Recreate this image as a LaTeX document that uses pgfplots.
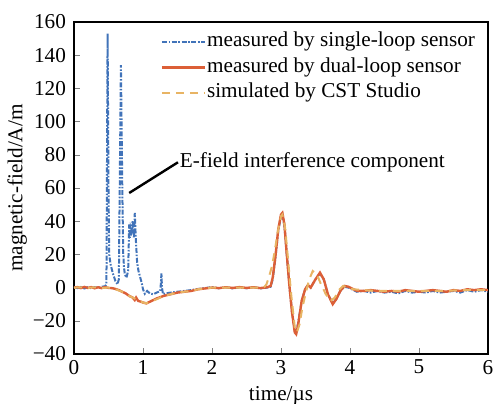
\documentclass[border=0pt]{standalone}
\usepackage{fontspec}
\setmainfont{Liberation Serif}
\usepackage{pgfplots}
\pgfplotsset{compat=1.18}
\definecolor{cblue}{RGB}{65,115,185}
\definecolor{cred}{RGB}{220,95,55}
\definecolor{corange}{RGB}{232,180,100}
\newcommand{\ff}{\fontsize{10.6}{12}\selectfont}
\begin{document}
\begin{tikzpicture}
\useasboundingbox (-37pt,-24.5pt) rectangle (210pt,177pt);
\begin{axis}[
  at={(0pt,0pt)}, anchor=south west,
  width=207pt, height=166pt, scale only axis,
  xmin=0, xmax=6, ymin=-40, ymax=160,
  xtick={0,1,2,3,4,5,6},
  xticklabels={0,1,2,3,4,5,6},
  ytick={-40,-20,0,20,40,60,80,100,120,140,160},
  yticklabels={−40,−20,0,20,40,60,80,100,120,140,160},
  tick pos=left, tick align=inside, major tick length=3pt,
  /pgf/number format/assume math mode=true,
  tick label style={font=\ff},
  label style={font=\ff},
  xticklabel style={yshift=0.5pt},
  yticklabel style={xshift=-0.5pt},
  xlabel={time/µs}, ylabel={magnetic-field/A/m},
  xlabel style={yshift=1pt}, ylabel style={yshift=-4pt},
  axis line style={line width=0.6pt},
  legend cell align=left,
  legend style={at={(0.972,0.975)}, anchor=north east, draw=none, fill=none,
    font=\ff, inner sep=0pt, row sep=1.8pt,
    nodes={inner sep=0.5pt, text height=7.5pt, text depth=2.5pt}},
  legend image code/.code={\draw[#1] (0pt,0pt) -- (21.5pt,0pt);},
]
\addplot[cblue, line width=1pt, dash pattern=on 2.5pt off 0.8pt on 0.8pt off 0.8pt] coordinates {
(0,0.5)(0.05,-0.3)(0.1,0.4)(0.15,-0.5)(0.2,0.2)(0.25,-0.4)(0.3,0.3)(0.35,-0.2)(0.4,0.5)(0.45,0.8)(0.47,2)
(0.487,153)(0.5,60)(0.51,20)(0.53,14)(0.56,9)(0.6,4)(0.63,2)(0.65,5)(0.68,134)(0.7,60)(0.713,21)(0.725,12)
(0.737,8)(0.76,6)(0.785,10)(0.8,38)(0.81,30)(0.82,36)(0.833,34)(0.85,40)(0.87,30)(0.881,45)(0.895,30)
(0.915,15)(0.935,10)(0.954,7)(0.98,3)(1.0,-1)(1.026,-3.7)(1.06,-2)(1.1,-3.5)(1.146,-4)(1.2,-3)(1.25,-2)
(1.26,3)(1.267,8.6)(1.275,0)(1.29,-4)(1.33,-3.5)(1.4,-3)(1.5,-2.5)(1.6,-2)(1.7,-1.5)(1.8,-0.8)(1.9,-0.3)
(2.0,0.3)(2.1,-0.4)(2.2,0.3)(2.3,-0.5)(2.4,0.2)(2.5,-0.4)(2.6,0.3)(2.7,-0.5)(2.8,0)(2.85,0.5)(2.88,5)
(2.92,18)(2.96,34)(3.0,43)(3.02,44)(3.05,37)(3.08,22)(3.12,2)(3.16,-15)(3.2,-26)(3.22,-27)(3.25,-21)
(3.3,-8)(3.35,-1)(3.39,1.5)(3.43,0)(3.5,5)(3.565,8.5)(3.62,5)(3.68,-4)(3.75,-9.5)(3.8,-7)(3.86,-2)
(3.92,0.5)(3.98,0)(4.05,-1.5)(4.1,-2.5)(4.2,-2)(4.3,-3)(4.4,-2)(4.5,-3)(4.6,-2.5)(4.7,-3.5)(4.8,-2)
(4.9,-3)(5.0,-2.5)(5.1,-3)(5.2,-2)(5.3,-3)(5.4,-2.5)(5.5,-2)(5.6,-3)(5.7,-1.5)(5.8,-2.5)(5.9,-1.5)(6.0,-2.5)
};
\addlegendentry{measured by single-loop sensor}
\addplot[cred, line width=1.2pt] coordinates {
(0,0)(0.05,0.3)(0.1,-0.3)(0.15,0.4)(0.2,-0.2)(0.25,0.3)(0.3,-0.4)(0.35,0.2)(0.4,-0.3)(0.45,0.3)(0.5,-0.2)
(0.55,-0.3)(0.6,-0.8)(0.65,-1.5)(0.7,-2.5)(0.75,-3.5)(0.8,-5)(0.85,-6)(0.88,-7.5)(0.9,-6)(0.93,-8)
(0.97,-8.5)(1.0,-9)(1.05,-9.5)(1.1,-8.5)(1.15,-7.5)(1.2,-6.5)(1.3,-5)(1.4,-4)(1.5,-3)(1.6,-2.5)(1.7,-2)
(1.8,-1)(1.9,-0.5)(2.0,0)(2.1,-0.3)(2.2,0.2)(2.3,-0.2)(2.4,0.3)(2.5,-0.2)(2.6,0.2)(2.7,-0.3)(2.8,0.2)
(2.85,1)(2.88,6)(2.92,19)(2.96,35)(3.0,44)(3.02,45)(3.05,38)(3.08,22)(3.12,2)(3.16,-15)(3.2,-27)
(3.22,-28)(3.25,-22)(3.3,-8)(3.35,-1)(3.39,1.5)(3.43,0)(3.5,5)(3.565,9)(3.62,5)(3.68,-4)(3.75,-10)
(3.8,-7)(3.86,-2)(3.92,1)(3.98,0.5)(4.05,-1)(4.1,-2)(4.2,-2)(4.3,-1.5)(4.4,-2)(4.5,-2.5)(4.6,-2)
(4.7,-2.5)(4.8,-1.5)(4.9,-2)(5.0,-2.5)(5.1,-2)(5.2,-1.5)(5.3,-2)(5.4,-2.5)(5.5,-1.5)(5.6,-2)(5.7,-1)
(5.8,-1.5)(5.9,-1)(6.0,-1.5)
};
\addlegendentry{measured by dual-loop sensor}
\addplot[corange, line width=1pt, dash pattern=on 4pt off 3pt] coordinates {
(0,0)(0.1,0.2)(0.2,-0.2)(0.3,0.2)(0.4,-0.2)(0.5,0)(0.6,-1)(0.7,-2.5)(0.8,-5)(0.9,-7)(1.0,-9)(1.05,-9.5)
(1.1,-8.5)(1.2,-7)(1.3,-5)(1.4,-4)(1.5,-3)(1.6,-2.5)(1.7,-2)(1.8,-1)(1.9,-0.5)(2.0,0)(2.2,0)(2.4,0)
(2.6,0)(2.75,0)(2.79,2)(2.83,7)(2.87,13)(2.91,22)(2.95,33)(3.0,43)(3.02,44)(3.06,36)(3.1,18)(3.15,-5)
(3.2,-24)(3.23,-27)(3.27,-22)(3.31,-12)(3.36,-3)(3.41,5)(3.46,10)(3.52,8)(3.58,2)(3.65,-4)(3.72,-8)
(3.78,-6)(3.85,-1)(3.9,1)(3.96,0)(4.05,-1)(4.2,-1.5)(4.4,-2)(4.6,-2)(4.8,-2)(5.0,-2)(5.2,-2)(5.4,-2)
(5.6,-1.5)(5.8,-1.5)(6.0,-1.5)
};
\addlegendentry{simulated by CST Studio}
\draw[black, line width=1.2pt] (axis cs:0.8,57) -- (axis cs:1.507,75.5);
\node[anchor=west, inner sep=0pt, font=\ff] at (axis cs:1.53,75.3) {E-field interference component};
\end{axis}
\end{tikzpicture}
\end{document}
